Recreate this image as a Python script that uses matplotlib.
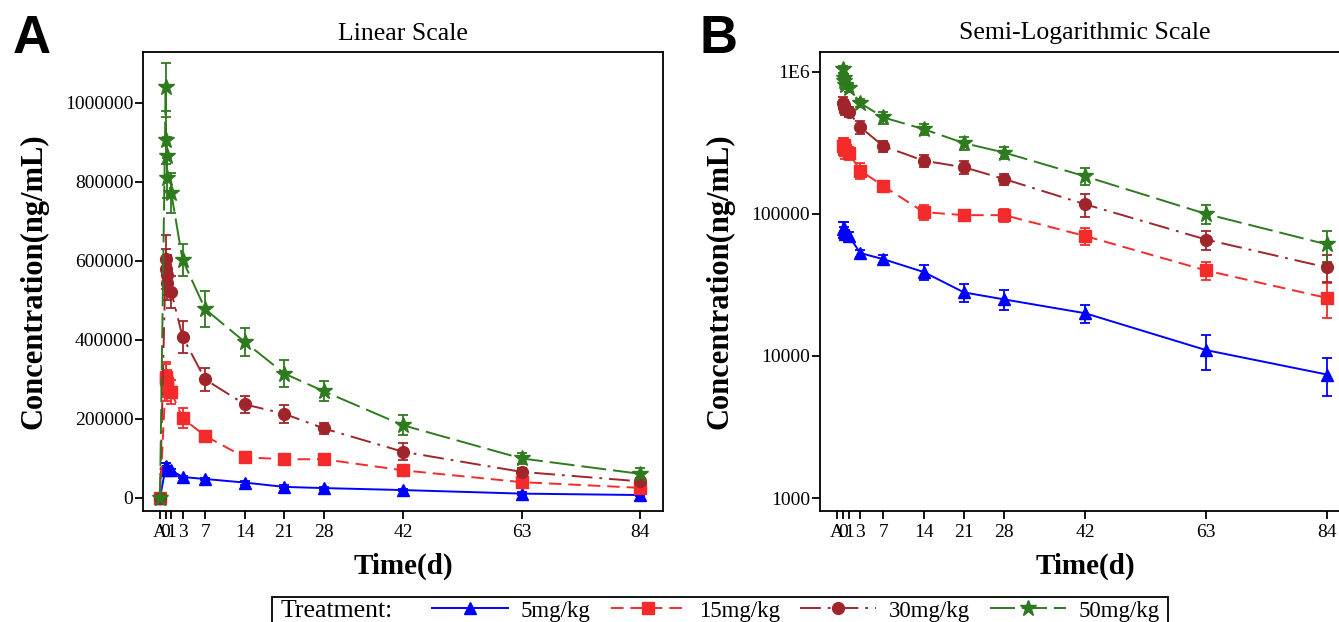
import matplotlib
matplotlib.use("Agg")
import matplotlib.pyplot as plt
import numpy as np
from matplotlib.patches import Rectangle

plt.rcParams['font.family'] = ['Liberation Serif', 'DejaVu Serif']
plt.rcParams['lines.scale_dashes'] = False

# ---------------- data ----------------
time_d = [-1, 0.02, 0.083, 0.167, 0.333, 1, 3, 7, 14, 21, 28, 42, 63, 84]
x_ticks = [-1, 0, 1, 3, 7, 14, 21, 28, 42, 63, 84]
x_ticklabels = ['A', '0', '1', '3', '7', '14', '21', '28', '42', '63', '84']

treatments = ['5mg/kg', '15mg/kg', '30mg/kg', '50mg/kg']

conc_5 = [0, 78000, 80000, 75000, 72000, 70000, 53000, 48000, 39000, 28000, 25000, 20000, 11000, 7400]
sd_5 = [0, 10000, 8000, 6000, 5000, 4000, 3000, 3000, 5000, 4000, 4000, 3000, 3000, 2200]

conc_15 = [0, 300000, 305000, 290000, 280000, 268000, 202000, 157000, 103000, 98000, 98000, 70000, 40000, 25600]
sd_15 = [0, 40000, 40000, 35000, 35000, 30000, 25000, 10000, 12000, 8000, 10000, 10000, 6000, 7000]

conc_30 = [0, 605000, 580000, 565000, 545000, 522000, 408000, 300000, 237000, 213000, 176000, 117000, 66000, 42000]
sd_30 = [0, 60000, 50000, 50000, 45000, 40000, 40000, 28000, 22000, 22000, 15000, 22000, 10000, 9000]

conc_50 = [0, 1040000, 905000, 865000, 810000, 772000, 603000, 478000, 395000, 315000, 270000, 184000, 100000, 61000]
sd_50 = [0, 60000, 60000, 50000, 50000, 50000, 40000, 45000, 35000, 35000, 25000, 25000, 15000, 15000]

lin_yticks = [0, 200000, 400000, 600000, 800000, 1000000]
log_yticks = [1000, 10000, 100000, 1000000]
log_yticklabels = ['1000', '10000', '100000', '1E6']

# ---------------- styles ----------------
series = [
    (conc_5, sd_5, '#0000FF', '^', 8.5, '-'),
    (conc_15, sd_15, '#F52A2A', 's', 8, (0, (9, 5))),
    (conc_30, sd_30, '#A0252A', 'o', 8.5, (0, (15, 5, 2, 5))),
    (conc_50, sd_50, '#2E7A1E', '*', 12, (0, (18, 5))),
]

W, H = 1339, 622
fig = plt.figure(figsize=(W / 100, H / 100), dpi=100)

def px_axes(l, t, r, b):
    return fig.add_axes([l / W, 1 - b / H, (r - l) / W, (b - t) / H])

axA = px_axes(143, 52, 663, 511)
axB = px_axes(820, 52, 1350, 511)

handles = []
for ax, logscale in ((axA, False), (axB, True)):
    if logscale:
        ax.set_yscale('log', nonpositive='mask')
    for (c, sd, col, mk, ms, ls), lab in zip(series, treatments):
        t = np.array(time_d, dtype=float)
        y = np.array(c, dtype=float)
        e = np.array(sd, dtype=float)
        if logscale:
            keep = y > 0
            t, y, e = t[keep], y[keep], e[keep]
        ax.errorbar(t, y, yerr=e, color=col, ecolor=col, elinewidth=1.3,
                    capsize=3.5, capthick=1.3, fmt='none', zorder=2)
        ln, = ax.plot(t, y, color=col, linestyle=ls, linewidth=1.4, marker=mk,
                      markersize=ms, markerfacecolor=col, markeredgecolor=col,
                      zorder=3, label=lab)
        if not logscale:
            handles.append(ln)

    ax.set_xlim(-4, 88)
    ax.set_xticks(x_ticks)
    ax.set_xticklabels(x_ticklabels)
    ax.tick_params(axis='both', direction='out', length=6, width=1.3, labelsize=14)
    ax.tick_params(axis='y', pad=1)
    ax.tick_params(axis='y', which='minor', left=False)
    for sp in ax.spines.values():
        sp.set_linewidth(1.3)
    ax.set_xlabel('Time(d)', fontsize=21, fontweight='bold', labelpad=8)
    ax.set_ylabel('Concentration(ng/mL)', fontsize=22, fontweight='bold', labelpad=12)

axA.set_ylim(-33000, 1129000)
axA.set_yticks(lin_yticks)
axA.set_yticklabels([str(v) for v in lin_yticks])
axA.set_title('Linear Scale', fontsize=18.5, pad=9)

axB.set_ylim(810, 1.38e6)
axB.set_yticks(log_yticks)
axB.set_yticklabels(log_yticklabels)
axB.yaxis.set_minor_locator(matplotlib.ticker.NullLocator())
axB.set_title('Semi-Logarithmic Scale', fontsize=18.5, pad=9)

fig.text(13 / W, 1 - 53 / H, 'A', fontsize=38, fontweight='bold',
         family='Liberation Sans', ha='left', va='baseline')
fig.text(700 / W, 1 - 53 / H, 'B', fontsize=38, fontweight='bold',
         family='Liberation Sans', ha='left', va='baseline')

# legend box (cut off at the bottom of the figure, as in the reference)
fig.add_artist(Rectangle((272 / W, -0.05), (1168 - 272) / W, (1 - 597 / H) + 0.05,
                         transform=fig.transFigure, fill=False, edgecolor='black',
                         linewidth=1.3, clip_on=False))
fig.text(281 / W, 1 - 611 / H, 'Treatment:', fontsize=18.5, ha='left', va='center')
leg = fig.legend(handles, treatments, loc='center left',
                 bbox_to_anchor=(432 / W, 1 - 611 / H), ncol=4, fontsize=16.5,
                 frameon=False, handlelength=3.3, columnspacing=0.9,
                 handletextpad=0.55, borderaxespad=0, borderpad=0)

fig.savefig('out.png', dpi=100)
